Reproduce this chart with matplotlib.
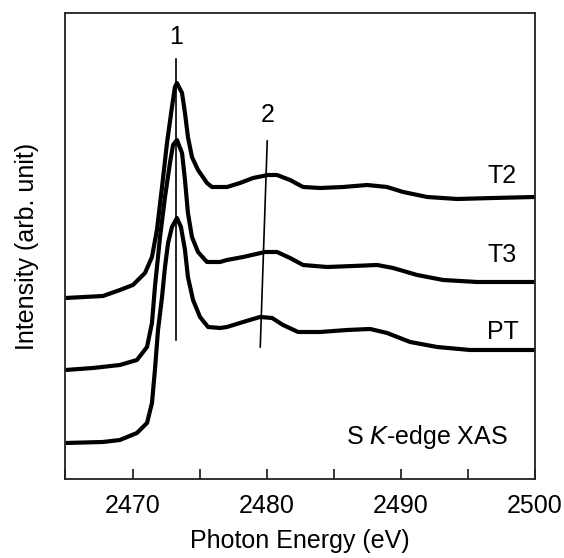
import numpy as np
import matplotlib
matplotlib.use("Agg")
import matplotlib.pyplot as plt
from matplotlib.ticker import MultipleLocator

plt.rcParams['font.family'] = ['Liberation Sans', 'DejaVu Sans']

# Спектры (энергия, эВ / интенсивность, отн. ед. со сдвигом)
t2_e = [2465.0, 2467.80, 2469.06, 2470.03, 2470.93, 2471.45, 2471.82, 2472.20, 2472.57,
        2472.94, 2473.16, 2473.31, 2473.69, 2473.91, 2474.13, 2474.43, 2474.88, 2475.55,
        2475.92, 2476.52, 2477.04, 2478.01, 2478.98, 2480.10, 2480.77, 2481.74, 2482.71,
        2483.98, 2485.69, 2487.48, 2488.97, 2490.17, 2491.96, 2494.20, 2496.88, 2500.0]
t2_i = [1.81, 1.83, 1.89, 1.94, 2.06, 2.22, 2.49, 2.92, 3.36,
        3.72, 3.92, 3.96, 3.86, 3.66, 3.42, 3.22, 3.09, 2.96,
        2.92, 2.92, 2.92, 2.96, 3.01, 3.04, 3.04, 2.99, 2.92,
        2.91, 2.92, 2.94, 2.92, 2.87, 2.82, 2.80, 2.81, 2.82]

t3_e = [2465.0, 2467.05, 2469.06, 2470.33, 2471.08, 2471.45, 2471.67, 2472.05, 2472.42,
        2472.79, 2473.02, 2473.31, 2473.69, 2473.91, 2474.13, 2474.43, 2474.88, 2475.55,
        2476.52, 2477.04, 2478.24, 2479.88, 2480.77, 2481.74, 2482.71, 2484.50, 2486.44,
        2488.23, 2489.42, 2491.21, 2493.15, 2495.69, 2500.0]
t3_i = [1.09, 1.11, 1.14, 1.19, 1.32, 1.56, 1.92, 2.42, 2.82,
        3.16, 3.34, 3.39, 3.26, 2.99, 2.66, 2.42, 2.27, 2.17,
        2.17, 2.19, 2.22, 2.27, 2.27, 2.21, 2.14, 2.12, 2.13,
        2.14, 2.11, 2.04, 1.99, 1.97, 1.97]

pt_e = [2465.0, 2467.80, 2469.06, 2470.33, 2471.08, 2471.45, 2471.67, 2471.90, 2472.20,
        2472.42, 2472.65, 2472.94, 2473.31, 2473.61, 2473.91, 2474.13, 2474.51, 2475.03,
        2475.63, 2476.52, 2477.04, 2478.24, 2479.50, 2480.40, 2481.22, 2482.34, 2483.98,
        2485.99, 2487.71, 2488.97, 2490.69, 2492.70, 2495.16, 2500.0]
pt_i = [0.36, 0.37, 0.39, 0.46, 0.56, 0.76, 1.09, 1.49, 1.82,
        2.12, 2.36, 2.52, 2.61, 2.52, 2.29, 2.02, 1.79, 1.62,
        1.52, 1.51, 1.52, 1.57, 1.62, 1.61, 1.54, 1.47, 1.47,
        1.49, 1.50, 1.46, 1.37, 1.32, 1.29, 1.29]

# Метки пиков
line1_e = [2473.27, 2473.27]
line1_i = [4.20, 1.39]
line2_e = [2480.04, 2479.52]
line2_i = [3.38, 1.32]

fig = plt.figure(figsize=(5.64, 5.58), dpi=100)
ax = fig.add_axes([0.116, 0.1416, 0.8327, 0.8351])

for e, i in [(t2_e, t2_i), (t3_e, t3_i), (pt_e, pt_i)]:
    ax.plot(e, i, color='black', linewidth=3.0, solid_capstyle='butt',
            solid_joinstyle='round', clip_on=False)

ax.plot(line1_e, line1_i, color='black', linewidth=1.2)
ax.plot(line2_e, line2_i, color='black', linewidth=1.2)

fs = 18
ax.text(2473.27, 4.42, '1', fontsize=fs, ha='center', va='center')
ax.text(2480.04, 3.64, '2', fontsize=fs, ha='center', va='center')
ax.text(2498.6, 3.03, 'T2', fontsize=fs, ha='right', va='center')
ax.text(2498.6, 2.24, 'T3', fontsize=fs, ha='right', va='center')
ax.text(2498.8, 1.47, 'PT', fontsize=fs, ha='right', va='center')
ax.text(2498.0, 0.42, 'S $\\mathit{K}$-edge XAS', fontsize=fs, ha='right', va='center')

ax.set_xlim(2465, 2500)
ax.set_ylim(0, 4.66)
ax.xaxis.set_major_locator(MultipleLocator(10))
ax.xaxis.set_minor_locator(MultipleLocator(5))
ax.tick_params(axis='x', which='both', direction='in', length=7, width=1.1,
               labelsize=fs, pad=11)
ax.tick_params(axis='y', left=False, labelleft=False)
for s in ax.spines.values():
    s.set_linewidth(1.3)
    s.set_color('#222222')

ax.set_xlabel('Photon Energy (eV)', fontsize=fs, labelpad=8)
ax.set_ylabel('Intensity (arb. unit)', fontsize=fs, labelpad=19)

fig.savefig('out.png', dpi=100)
